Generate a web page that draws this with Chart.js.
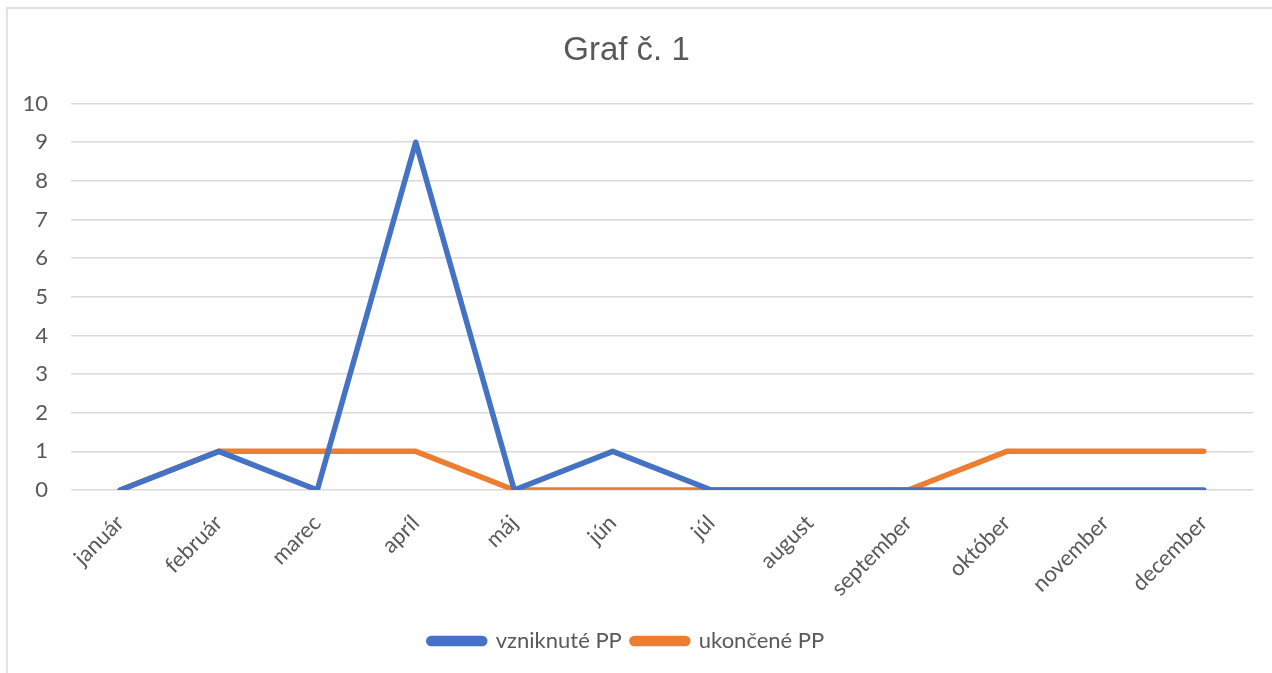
<!DOCTYPE html>
<html>
<head>
<meta charset="utf-8">
<script src="https://cdn.jsdelivr.net/npm/chart.js@4/dist/chart.umd.min.js"></script>
<style>
  html, body { margin: 0; padding: 0; background: #fff; }
  #wrap { width: 1272px; height: 673px; position: relative; }
</style>
</head>
<body>
<div id="wrap"><canvas id="myChart" width="1272" height="673"></canvas></div>
<script>
const months = ["január", "február", "marec", "apríl", "máj", "jún", "júl", "august", "september", "október", "november", "december"];
const vzniknute = [0, 1, 0, 9, 0, 1, 0, 0, 0, 0, 0, 0];
const ukoncene = [0, 1, 1, 1, 0, 0, 0, 0, 0, 1, 1, 1];

const textColor = "#595959";
const gridColor = "#d9d9d9";
const font = "Lato, 'Open Sans', sans-serif";

// outer frame like the Excel chart area
const framePlugin = {
    id: "frame",
    beforeDraw(chart) {
        const ctx = chart.ctx;
        ctx.save();
        ctx.fillStyle = "#fff";
        ctx.fillRect(0, 0, chart.width, chart.height);
        ctx.strokeStyle = gridColor;
        ctx.lineWidth = 1.5;
        ctx.strokeRect(7, 8, chart.width + 20, chart.height + 20);
        ctx.restore();
    }
};

const myChartRef = document.getElementById("myChart").getContext("2d");
new Chart(myChartRef, {
    type: "line",
    data: {
        labels: months,
        datasets: [{
            label: "vzniknuté PP",
            data: vzniknute,
            borderColor: "#4472C4",
            backgroundColor: "#4472C4",
            borderWidth: 5.5,
            pointRadius: 0,
            borderCapStyle: "round",
            borderJoinStyle: "round",
            tension: 0
        }, {
            label: "ukončené PP",
            data: ukoncene,
            borderColor: "#ED7D31",
            backgroundColor: "#ED7D31",
            borderWidth: 5.5,
            pointRadius: 0,
            borderCapStyle: "round",
            borderJoinStyle: "round",
            tension: 0
        }]
    },
    options: {
        responsive: false,
        animation: false,
        layout: { padding: { left: 0, right: 19, top: 0, bottom: 11 } },
        plugins: {
            title: {
                display: true,
                text: "Graf č. 1",
                color: textColor,
                font: { family: "'Liberation Sans', Arial, sans-serif", size: 33, weight: "normal" },
                padding: { top: 31, bottom: 33 }
            },
            legend: {
                position: "bottom",
                labels: {
                    color: textColor,
                    font: { family: font, size: 22 },
                    boxWidth: 56,
                    boxHeight: 5,
                    padding: 10,
                    useBorderRadius: true,
                    borderRadius: 2.5
                }
            },
            tooltip: { enabled: false }
        },
        scales: {
            x: {
                offset: true,
                grid: { display: false },
                border: { display: false },
                ticks: {
                    color: textColor,
                    font: { family: font, size: 22 },
                    minRotation: 45,
                    maxRotation: 45,
                    padding: 12
                },
                afterFit(scale) { scale.height = 130; }
            },
            y: {
                min: 0,
                max: 10,
                grid: { color: gridColor, lineWidth: 1.5, drawTicks: false },
                border: { display: false },
                ticks: {
                    stepSize: 1,
                    color: textColor,
                    font: { family: font, size: 22 },
                    padding: 23
                },
                afterFit(scale) { scale.width = 71; }
            }
        }
    },
    plugins: [framePlugin]
});
</script>
</body>
</html>
